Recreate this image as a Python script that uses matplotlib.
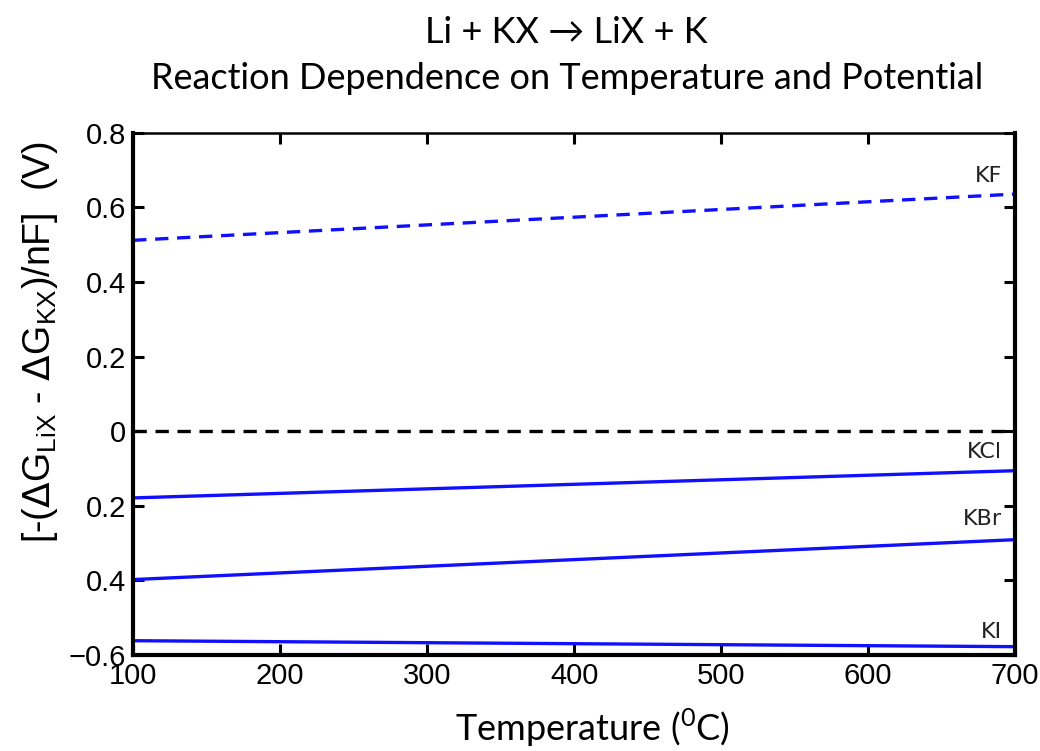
import numpy as np
import matplotlib.pyplot as plt

# end-point potentials (V) of each displacement reaction, 100 and 700 C
temps = [100, 700]
kf = [0.512, 0.636]
kcl = [-0.179, -0.106]
kbr = [-0.398, -0.291]
ki = [-0.562, -0.578]
zero_line = [0.0, 0.0]

salt_names = ["KF", "KCl", "KBr", "KI"]
label_y = [0.685, -0.055, -0.235, -0.538]

y_ticks = [0.8, 0.6, 0.4, 0.2, 0.0, -0.2, -0.4, -0.6]
y_tick_labels = ["0.8", "0.6", "0.4", "0.2", "0", "0.2", "0.4", "\u22120.6"]
x_ticks = [100, 200, 300, 400, 500, 600, 700]

fig = plt.figure(figsize=(10.4, 7.51), dpi=100)
ax = fig.add_axes([0.128, 0.128, 0.848, 0.695])

blue = "#1010ff"
dash = (0, (4, 2.6))
ax.plot(temps, kf, color=blue, lw=2.4, ls=dash)
ax.plot(temps, zero_line, color="black", lw=2.4, ls=dash)
for series in (kcl, kbr, ki):
    ax.plot(temps, series, color=blue, lw=2.4)

for name, yv in zip(salt_names, label_y):
    ax.text(691, yv, name, ha="right", va="center", fontsize=16,
            family="DejaVu Sans", color="#222222")

ax.set_xlim(100, 700)
ax.set_ylim(-0.6, 0.8)
ax.set_xticks(x_ticks)
ax.set_xticklabels([str(t) for t in x_ticks])
ax.set_yticks(y_ticks)
ax.set_yticklabels(y_tick_labels)
ax.tick_params(direction="in", length=8, width=2.2, labelsize=21, pad=5,
               top=True, right=True)
for lbl in ax.get_xticklabels() + ax.get_yticklabels():
    lbl.set_family("Liberation Sans")
for side, sp in ax.spines.items():
    sp.set_linewidth(1.8 if side == "top" else 3)

fig.text(0.038, 0.545,
         r"[-($\Delta$G$_{\mathregular{LiX}}$ - $\Delta$G$_{\mathregular{KX}}$)/nF]  (V)",
         rotation=90, ha="center", va="center", fontsize=27, family="Liberation Sans")
fig.text(0.57, 0.031, r"Temperature ($^{\mathregular{0}}$C)", ha="center", va="center",
         fontsize=26, family=["Lato", "DejaVu Sans"])

fig.text(0.545, 0.957, "Li + KX \u2192 LiX + K", ha="center", va="center",
         fontsize=26, family=["Lato", "DejaVu Sans"])
fig.text(0.545, 0.896, "Reaction Dependence on Temperature and Potential",
         ha="center", va="center", fontsize=26, family=["Lato", "DejaVu Sans"])

fig.savefig("out.png", dpi=100)
